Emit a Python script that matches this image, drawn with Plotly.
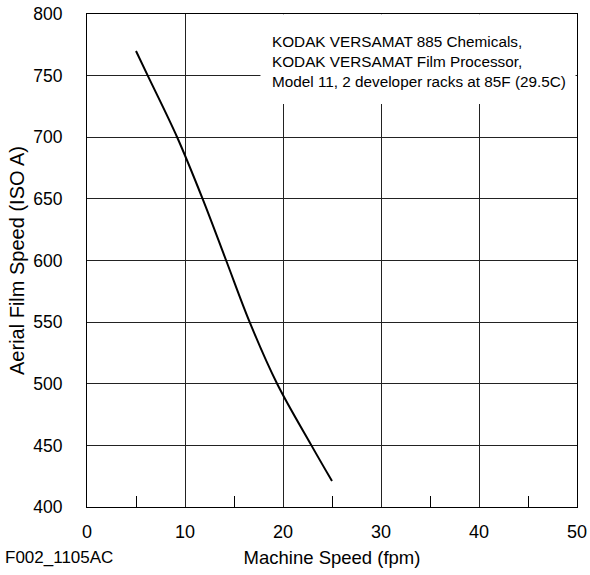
import plotly.graph_objects as go

machine_speed = [5.0, 6.2, 9.2, 11.8, 14.2, 16.6, 19.4, 22.9, 25.0]
film_speed = [770, 750, 700, 650, 600, 550, 500, 450, 421]

x_ticks = [0, 10, 20, 30, 40, 50]
y_ticks = [400, 450, 500, 550, 600, 650, 700, 750, 800]

note_lines = [
    "KODAK VERSAMAT 885 Chemicals,",
    "KODAK VERSAMAT Film Processor,",
    "Model 11, 2 developer racks at 85F (29.5C)",
]

FONT = "Liberation Sans, Arial, sans-serif"

fig = go.Figure()
fig.add_trace(go.Scatter(
    x=machine_speed, y=film_speed, mode="lines",
    line=dict(color="black", width=2, shape="spline", smoothing=1.0),
    showlegend=False, hoverinfo="skip",
))

fig.add_shape(type="rect", xref="x", yref="y", x0=17.7, x1=49.85, y0=727, y1=799.7,
              fillcolor="white", line=dict(width=0), layer="above")

fig.add_annotation(xref="x", yref="y", x=18.65, y=786, xanchor="left", yanchor="top",
                   text="<br>".join(note_lines), align="left", showarrow=False,
                   font=dict(family=FONT, size=15.3, color="black"))

fig.add_annotation(xref="paper", yref="paper", x=-84/490, y=-(557-507)/493,
                   xanchor="left", yanchor="middle", text="F002_1105AC", showarrow=False,
                   font=dict(family=FONT, size=17, color="black"))

fig.update_xaxes(range=[0, 50], tickvals=x_ticks, ticktext=[str(v) for v in x_ticks],
                 showgrid=True, gridcolor="#222", gridwidth=1, zeroline=False,
                 showline=True, linecolor="black", linewidth=1, mirror=True,
                 ticks="", ticklabelstandoff=8, automargin=False,
                 minor=dict(ticks="inside", ticklen=11, tickvals=[5, 15, 25, 35, 45],
                            tickcolor="black", tickwidth=1, showgrid=False),
                 tickfont=dict(family=FONT, size=18, color="black"),
                 title=dict(text="Machine Speed (fpm)", standoff=10,
                            font=dict(family=FONT, size=18.5, color="black")))
fig.update_yaxes(range=[400, 800], tickvals=y_ticks, ticktext=[str(v) for v in y_ticks],
                 showgrid=True, gridcolor="#222", gridwidth=1, zeroline=False,
                 showline=True, linecolor="black", linewidth=1, mirror=True,
                 ticks="", ticklabelstandoff=20, automargin=False,
                 tickfont=dict(family=FONT, size=17.5, color="black"),
                 title=dict(text="Aerial Film Speed (ISO A)", standoff=3,
                            font=dict(family=FONT, size=20, color="black")))

fig.update_layout(width=590, height=575, margin=dict(l=87, r=13, t=14, b=68),
                  paper_bgcolor="white", plot_bgcolor="white",
                  font=dict(family=FONT, color="black"))

fig.write_html("out.html")
